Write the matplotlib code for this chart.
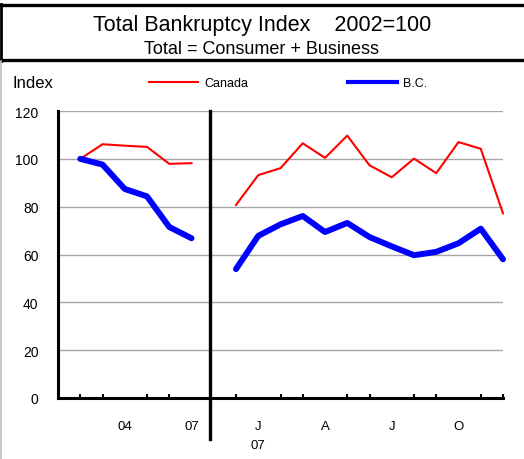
import numpy as np
import matplotlib
matplotlib.use("Agg")
from matplotlib import pyplot as plt
from matplotlib.lines import Line2D

plt.rcParams['font.family'] = ['Liberation Sans', 'DejaVu Sans']

# annual points 2002-2007, then monthly Dec 06 - Dec 07
years_x = [1, 2, 3, 4, 5, 6]
canada_yr = [100, 106.1, 105.5, 105.0, 97.9, 98.2]
bc_yr = [100, 97.6, 87.4, 84.3, 71.5, 66.8]

months_x = [8, 9, 10, 11, 12, 13, 14, 15, 16, 17, 18, 19, 20]
canada_mo = [80.7, 93.2, 96.1, 106.5, 100.4, 109.7, 97.3, 92.3, 100.1, 94.0, 107.0, 104.2, 77.2]
bc_mo = [53.9, 67.8, 72.6, 76.1, 69.4, 73.2, 67.3, 63.4, 59.7, 61.1, 64.7, 70.8, 58.0]

xlabel_pos = [3, 6, 9, 12, 15, 18]
xlabel_txt = ['04', '07', 'J\n07', 'A', 'J', 'O']
yticks = [0, 20, 40, 60, 80, 100, 120]

fig = plt.figure(figsize=(5.24, 4.6), dpi=100)
W, H = 524.0, 460.0
ax = fig.add_axes([58 / W, 1 - 399 / H, (503 - 58) / W, (399 - 112) / H])

red = '#FF0000'
blue = '#0000FF'
l1, = ax.plot(years_x, canada_yr, color=red, lw=1.5, clip_on=False)
ax.plot(months_x, canada_mo, color=red, lw=1.5, clip_on=False)
l2, = ax.plot(years_x, bc_yr, color=blue, lw=4.3, solid_capstyle='round', clip_on=False)
ax.plot(months_x, bc_mo, color=blue, lw=4.3, solid_capstyle='round', clip_on=False)

ax.set_xlim(0, 20)
ax.set_ylim(0, 120)

# gridlines
for v in yticks[1:]:
    ax.axhline(v, color='#A6A6A6', lw=1.0, zorder=0)

# divider between annual and monthly part
ax.plot([6.83, 6.83], [120, -17], color='black', lw=2.4, clip_on=False)

ax.spines['top'].set_visible(False)
ax.spines['right'].set_visible(False)
ax.spines['left'].set_linewidth(2.2)
ax.spines['bottom'].set_linewidth(2.2)

ax.set_yticks(yticks)
ax.set_yticklabels([str(v) for v in yticks], fontsize=10)
ax.tick_params(axis='y', length=0, pad=14)

ax.set_xticks(xlabel_pos)
ax.set_xticklabels(xlabel_txt, fontsize=9.5, linespacing=1.75)
ax.tick_params(axis='x', which='major', length=0, pad=16)
ax.set_xticks([1, 2, 3, 4, 5, 6, 8, 9, 10, 11, 12, 13, 14, 15, 16, 17, 18, 19, 20], minor=True)
ax.tick_params(axis='x', which='minor', direction='in', length=3, width=1.5)

# legend
fig.legend([l1], ['Canada'], loc='center left', bbox_to_anchor=(149 / W, 1 - 84 / H),
           frameon=False, fontsize=9, handlelength=3.9, borderpad=0, borderaxespad=0,
           handletextpad=0.5)
fig.legend([Line2D([], [], color=blue, lw=3)], ['B.C.'], loc='center left',
           bbox_to_anchor=(348 / W, 1 - 84 / H), frameon=False, fontsize=9,
           handlelength=3.9, borderpad=0, borderaxespad=0, handletextpad=0.5)

fig.text(12 / W, 1 - 84 / H, 'Index', fontsize=12, va='center', ha='left')

# title box
fig.text(262 / W, 1 - 31 / H, 'Total Bankruptcy Index    2002=100', fontsize=15.5,
         ha='center', va='baseline')
fig.text(262 / W, 1 - 54 / H, 'Total = Consumer + Business', fontsize=13,
         ha='center', va='baseline')
fig.add_artist(Line2D([0, 1], [1 - 6 / H, 1 - 6 / H], color='black', lw=2.4,
                      transform=fig.transFigure))
fig.add_artist(Line2D([0, 1], [1 - 61 / H, 1 - 61 / H], color='black', lw=2.4,
                      transform=fig.transFigure))
fig.add_artist(Line2D([1.2 / W, 1.2 / W], [1 - 5 / H, 1 - 62 / H], color='black', lw=2.0,
                      transform=fig.transFigure))
fig.add_artist(Line2D([1 / W, 1 / W], [1 - 62 / H, 0], color='#BDBDBD', lw=1.2,
                      transform=fig.transFigure))

fig.savefig('out.png', dpi=100)
